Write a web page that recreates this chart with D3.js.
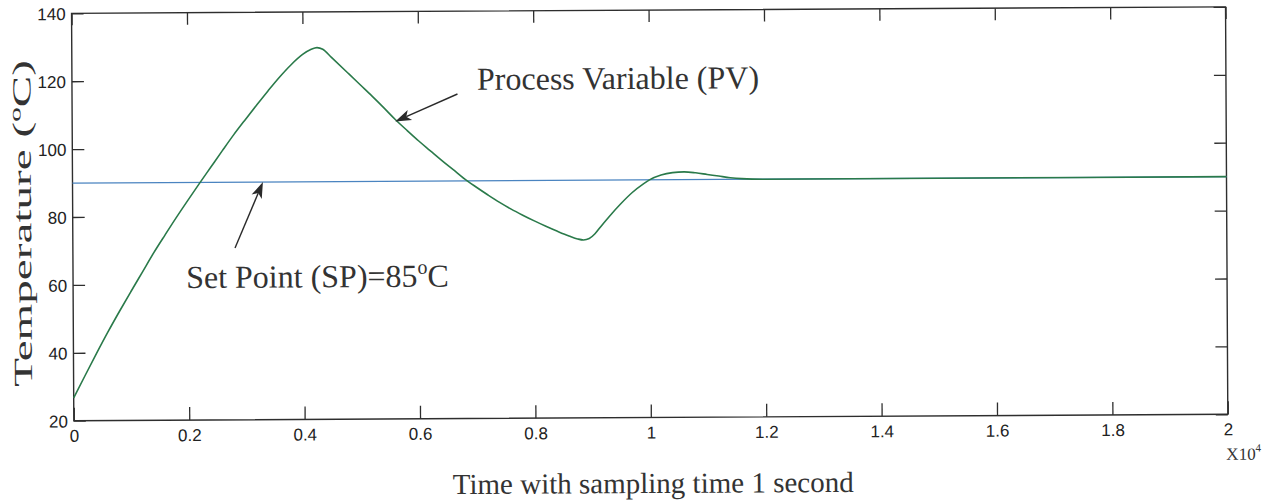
<!DOCTYPE html>
<html>
<head>
<meta charset="utf-8">
<script src="https://cdn.jsdelivr.net/npm/d3@7/dist/d3.min.js"></script>
<style>
html, body { margin: 0; padding: 0; background: #fff; }
</style>
</head>
<body>
<div id="chart"></div>
<script>
var width = 1272, height = 501;

// time axis is in units of 10^4 samples
var pvTime = [0, 0.02, 0.04, 0.06, 0.08, 0.10, 0.12, 0.14, 0.16, 0.18, 0.20, 0.22, 0.24, 0.26, 0.28, 0.30,
  0.32, 0.34, 0.36, 0.38, 0.40, 0.415, 0.425, 0.435, 0.45, 0.48, 0.50, 0.52, 0.54, 0.56, 0.58, 0.60,
  0.62, 0.64, 0.66, 0.68, 0.70, 0.72, 0.74, 0.76, 0.78, 0.80, 0.82, 0.84, 0.86, 0.875, 0.885, 0.895,
  0.905, 0.915, 0.93, 0.95, 0.97, 0.99, 1.00, 1.02, 1.04, 1.06, 1.08, 1.10, 1.12, 1.14, 1.16, 1.20, 1.5, 2.0];
var pvTemp = [26.7, 33.3, 39.8, 46.1, 52.1, 57.9, 63.6, 69.3, 74.6, 79.8, 84.8, 89.7, 94.5, 99.3, 104.0, 108.4,
  112.7, 116.9, 120.9, 124.5, 127.5, 129.0, 129.5, 129.0, 126.6, 121.7, 118.4, 115.1, 111.7, 108.2, 105.0, 101.9,
  99.0, 96.1, 93.3, 90.5, 88.1, 85.8, 83.6, 81.6, 79.8, 78.1, 76.5, 75.0, 73.6, 72.7, 72.4, 72.8,
  74.2, 76.3, 79.3, 83.0, 86.3, 88.9, 90.0, 91.4, 92.1, 92.3, 92.0, 91.5, 91.0, 90.5, 90.2, 90.0, 90.0, 90.0];

var spTime = [0, 2];
var spTemp = [90, 90];

var xTicks = [0, 0.2, 0.4, 0.6, 0.8, 1, 1.2, 1.4, 1.6, 1.8, 2];
var yTicks = [20, 40, 60, 80, 100, 120, 140];

// annotation anchors (data coords): [tail, tip]
var pvArrow = [[0.668, 115.6], [0.560, 107.6]];
var spArrow = [[0.281, 70.6], [0.330, 90.0]];

var margin = {top: 10.1, right: 45.3, bottom: 83.5, left: 72.7};
var nomargin_w = width - margin.left - margin.right,
  nomargin_h = height - margin.top - margin.bottom;

var svg = d3.select("#chart").append("svg")
  .attr("width", width)
  .attr("height", height);

// the scan is tilted a little, so tilt the whole figure the same way
var fig = svg.append("g")
  .attr("transform", "rotate(-0.32, 650, 216)");

var plot = fig.append("g")
  .attr("transform", "translate(" + margin.left + "," + margin.top + ")");

var x = d3.scaleLinear().domain([0, 2]).range([0, nomargin_w]);
var y = d3.scaleLinear().domain([20, 140]).range([nomargin_h, 0]);

var axisColor = "#2e2e2e";
var tickFont = "'Liberation Sans Narrow', 'Arial Narrow', 'Liberation Sans', Arial, sans-serif";
var serif = "'Liberation Serif', 'Times New Roman', Times, serif";

function fmt(d) { return String(+d.toFixed(1)); }

function styleAxis(g) {
  g.select(".domain").remove();
  g.selectAll(".tick line").attr("stroke", axisColor).attr("stroke-width", 1.3);
  g.selectAll(".tick text")
    .attr("fill", "#222")
    .style("font-family", tickFont)
    .style("font-size", "17px");
}

plot.append("g")
  .attr("transform", "translate(0," + nomargin_h + ")")
  .call(d3.axisBottom(x).tickValues(xTicks).tickFormat(fmt).tickSizeInner(-13).tickSizeOuter(0).tickPadding(21))
  .call(styleAxis)
  .selectAll(".tick text").attr("dy", "0");

plot.append("g")
  .call(d3.axisTop(x).tickValues(xTicks).tickFormat("").tickSizeInner(-12).tickSizeOuter(0))
  .call(styleAxis);

plot.append("g")
  .call(d3.axisLeft(y).tickValues(yTicks).tickFormat(fmt).tickSizeInner(-12).tickSizeOuter(0).tickPadding(18))
  .call(styleAxis)
  .selectAll(".tick text").attr("dx", "0").attr("dy", "0.36em").attr("x", -6);

plot.append("g")
  .attr("transform", "translate(" + nomargin_w + ",0)")
  .call(d3.axisRight(y).tickValues(yTicks).tickFormat("").tickSizeInner(-12).tickSizeOuter(0))
  .call(styleAxis);

// box
plot.append("rect")
  .attr("x", 0).attr("y", 0)
  .attr("width", nomargin_w).attr("height", nomargin_h)
  .attr("fill", "none")
  .attr("stroke", axisColor)
  .attr("stroke-width", 1.4);

var line = d3.line()
  .x(function(d) { return x(d[0]); })
  .y(function(d) { return y(d[1]); })
  .curve(d3.curveMonotoneX);

var spData = spTime.map(function(t, i) { return [t, spTemp[i]]; });
var pvData = pvTime.map(function(t, i) { return [t, pvTemp[i]]; });

plot.append("path")
  .datum(spData)
  .attr("d", line)
  .attr("fill", "none")
  .attr("stroke", "#4a84c0")
  .attr("stroke-width", 1.3);

plot.append("path")
  .datum(pvData)
  .attr("d", line)
  .attr("fill", "none")
  .attr("stroke", "#2a7a4a")
  .attr("stroke-width", 1.6);

// arrows
function drawArrow(a) {
  var x1 = x(a[0][0]), y1 = y(a[0][1]), x2 = x(a[1][0]), y2 = y(a[1][1]);
  var ang = Math.atan2(y2 - y1, x2 - x1);
  var len = 16, half = 5.5, back = 12;
  var bx = x2 - back * Math.cos(ang), by = y2 - back * Math.sin(ang);
  plot.append("line")
    .attr("x1", x1).attr("y1", y1)
    .attr("x2", bx).attr("y2", by)
    .attr("stroke", "#2a2a2a")
    .attr("stroke-width", 1.4);
  var px = -Math.sin(ang), py = Math.cos(ang);
  var lx = x2 - len * Math.cos(ang), ly = y2 - len * Math.sin(ang);
  plot.append("path")
    .attr("d", "M" + x2 + "," + y2 +
      "L" + (lx + half * px) + "," + (ly + half * py) +
      "L" + bx + "," + by +
      "L" + (lx - half * px) + "," + (ly - half * py) + "Z")
    .attr("fill", "#2a2a2a");
}
drawArrow(pvArrow);
drawArrow(spArrow);

// annotations
plot.append("text")
  .attr("x", x(0.702)).attr("y", y(116.8))
  .style("font-family", serif).style("font-size", "32px")
  .attr("fill", "#333")
  .text("Process Variable (PV)");

var spText = plot.append("text")
  .attr("x", x(0.196)).attr("y", y(58.9))
  .style("font-family", serif).style("font-size", "32px")
  .attr("fill", "#333");
spText.append("tspan").text("Set Point (SP)=85");
spText.append("tspan").attr("dy", -13).style("font-size", "20px").text("o");
spText.append("tspan").attr("dy", 13).text("C");

// axis titles
fig.append("text")
  .attr("x", margin.left + nomargin_w / 2 + 2)
  .attr("y", 493)
  .attr("text-anchor", "middle")
  .style("font-family", serif).style("font-size", "29px")
  .attr("fill", "#333")
  .text("Time with sampling time 1 second");

// y title is stretched along its length in the original
var yTitle = fig.append("text")
  .attr("text-anchor", "middle")
  .style("font-family", serif).style("font-size", "26px")
  .attr("fill", "#333");
yTitle.append("tspan").text("Temperature (");
yTitle.append("tspan").attr("dy", -10).style("font-size", "16px").text("o");
yTitle.append("tspan").attr("dy", 10).text("C)");
var natLen = yTitle.node().getComputedTextLength();
yTitle.attr("transform", "translate(31,220) rotate(-90) scale(" + (327 / natLen) + ",1)");

var expo = fig.append("text")
  .attr("x", 1225).attr("y", 463)
  .style("font-family", serif).style("font-size", "17px")
  .attr("fill", "#333");
expo.append("tspan").text("X10");
expo.append("tspan").attr("dy", -8).style("font-size", "11px").text("4");
</script>
</body>
</html>
